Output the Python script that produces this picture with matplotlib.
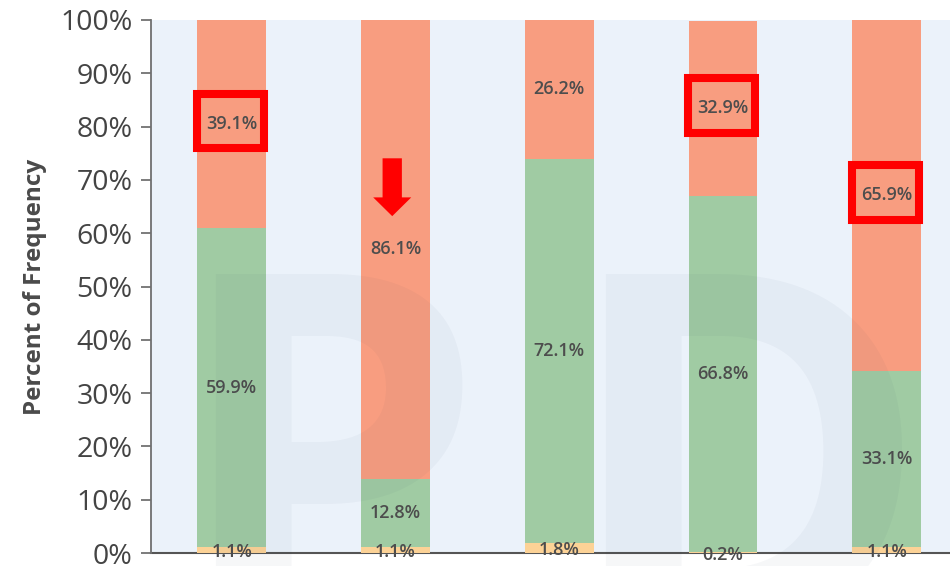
import matplotlib
matplotlib.use("Agg")
import matplotlib.pyplot as plt
from matplotlib.patches import Rectangle
import numpy as np

# ---- data ----
groups = ["A", "B", "C", "D", "E"]
low = [1.1, 1.1, 1.8, 0.2, 1.1]          # yellow (bottom)
mid = [59.9, 12.8, 72.1, 66.8, 33.1]     # green (middle)
high = [39.1, 86.1, 26.2, 32.9, 65.9]    # salmon (top)
yticks = [0, 10, 20, 30, 40, 50, 60, 70, 80, 90, 100]
ytick_labels = [f"{v}%" for v in yticks]
highlight = [0, 3, 4]    # bars whose top label is boxed
arrow_bar = 1            # bar with the down arrow

c_low = "#fcd296"
c_mid = "#a0cba3"
c_high = "#f89d80"
bg = "#ebf2fa"
txt = "#4d4d4d"

plt.rcParams['font.family'] = ['Open Sans', 'DejaVu Sans']

fig = plt.figure(figsize=(9.5, 5.66), dpi=100)
ax = fig.add_axes([151/950, 13/566, 1 - 151/950, 533/566])
ax.set_facecolor(bg)

x = np.arange(len(groups))
w = 0.421
low_a = np.array(low)
mid_a = np.array(mid)
high_a = np.array(high)

ax.bar(x, low_a, w, color=c_low, zorder=3)
ax.bar(x, mid_a, w, bottom=low_a, color=c_mid, zorder=3)
ax.bar(x, high_a, w, bottom=low_a + mid_a, color=c_high, zorder=3)

lab_kw = dict(ha="center", va="center", fontsize=13, fontweight=600,
              color=txt, zorder=6)
for i in range(len(groups)):
    ax.text(x[i], low_a[i] / 2 - 0.4, f"{low[i]}%", **lab_kw)
    ax.text(x[i], low_a[i] + mid_a[i] / 2, f"{mid[i]}%", **lab_kw)
    ax.text(x[i], low_a[i] + mid_a[i] + high_a[i] / 2, f"{high[i]}%", **lab_kw)

# red highlight boxes
for i in highlight:
    cy = low_a[i] + mid_a[i] + high_a[i] / 2 + 0.5
    bw, bh = 0.41, 10.3
    ax.add_patch(Rectangle((x[i] - 0.01 - bw / 2, cy - bh / 2), bw, bh,
                           fill=False, edgecolor="#ff0000", linewidth=5.8,
                           zorder=7, joinstyle="miter"))

# red down arrow
ax.annotate("", xy=(x[arrow_bar] - 0.02, 63.2), xytext=(x[arrow_bar] - 0.02, 74.05),
            arrowprops=dict(arrowstyle="simple,head_length=13.5,head_width=27.4,tail_width=13.9",
                            mutation_scale=1, color="#ff0000", shrinkA=0, shrinkB=0,
                            linewidth=0),
            zorder=7)

ax.set_xlim(-0.493, 4.386)
ax.set_ylim(0, 100)
ax.set_yticks(yticks)
ax.set_yticklabels(ytick_labels, fontsize=20.5, color="#444444")
ax.set_xticks([])
ax.tick_params(axis="y", length=7.2, width=1.2, color="#666666", pad=6)
for s in ["top", "right"]:
    ax.spines[s].set_visible(False)
ax.spines["left"].set_color("#707070")
ax.spines["left"].set_linewidth(1.3)
ax.spines["bottom"].set_color("#555555")
ax.spines["bottom"].set_linewidth(1.5)
ax.spines["bottom"].set_zorder(2)

ax.set_ylabel("Percent of Frequency", fontsize=17.5, fontweight="bold",
              color="#4a4a4a", labelpad=10)

# faint watermark
wm_kw = dict(fontsize=360, fontweight="bold", color="#1a3050", alpha=0.035,
             zorder=10, ha="left", va="baseline")
fig.text(170/950, -0.115, "P", **wm_kw)
fig.text(560/950, -0.115, "D", **wm_kw)

fig.savefig("out.png", dpi=100)
